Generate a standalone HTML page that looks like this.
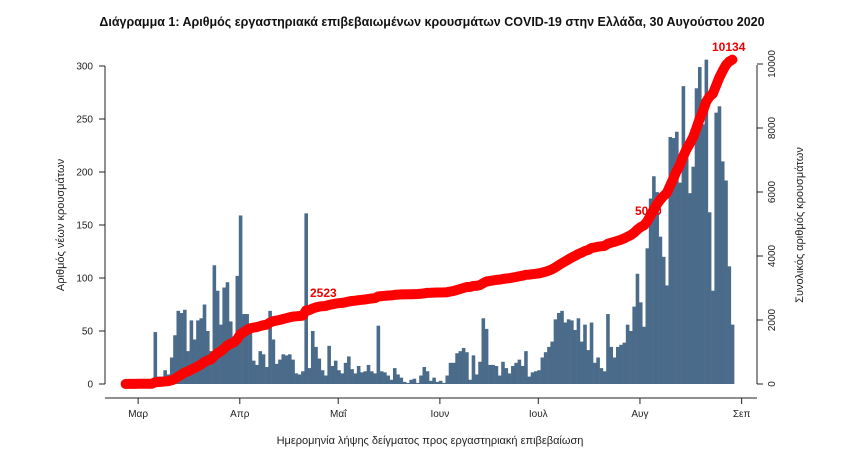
<!DOCTYPE html>
<html><head><meta charset="utf-8"><style>
body{margin:0;background:#fff;}
svg{display:block;font-family:"Liberation Sans","DejaVu Sans",sans-serif;}
</style></head><body>
<svg id="s" width="846" height="457" viewBox="0 0 846 457" xmlns="http://www.w3.org/2000/svg">
<text x="432" y="26" text-anchor="middle" font-size="12.5" font-weight="bold" fill="#111">Διάγραμμα 1: Αριθμός εργαστηριακά επιβεβαιωμένων κρουσμάτων COVID-19 στην Ελλάδα, 30 Αυγούστου 2020</text>
<g id="bars" fill="#4b6b8a"></g>
<g stroke="#222" stroke-width="1" fill="none">
<line x1="105" y1="66" x2="105" y2="384"/>
<line x1="757" y1="65" x2="757" y2="384"/>
<line x1="105" y1="398" x2="757" y2="398"/>
</g>
<g id="ax" font-size="10" fill="#222"></g>
<text transform="translate(64,225) rotate(-90)" text-anchor="middle" font-size="11" fill="#222">Αριθμός νέων κρουσμάτων</text>
<text transform="translate(803,225) rotate(-90)" text-anchor="middle" font-size="11" fill="#222">Συνολικός αριθμός κρουσμάτων</text>
<text x="430" y="444" text-anchor="middle" font-size="11" fill="#222">Ημερομηνία λήψης δείγματος προς εργαστηριακή επιβεβαίωση</text>
<g id="cum"></g>
<text x="310" y="297" font-size="12" font-weight="bold" fill="#e00">2523</text>
<text x="635" y="215" font-size="12" font-weight="bold" fill="#e00">5000</text>
<text x="712" y="51" font-size="12" font-weight="bold" fill="#e00">10134</text>
</svg>
<script>
var segs=[[0,[1,1,1,0,2,1,0,0,2,49,7,7,13,9,25,46,69,67,70,31,60,42,60,62,75,50,31,112,88,56,91,96,59,43,102,159,
66,66,54,22,18,31,28,16,69,42,19,23,28,27,28,23,10,9,12,161]],
[56,[15,50,35,24,13,8,36,17,22,13,10,20,26,14,10,17,11,12,18,12,10,55]],
[78,[12,11,8,4,15,9,6,2,1,4,5,1,8,16,12,3,6,2,3,1,8,20]],
[100,[20,29,31,34,30,4,27,9,21,62,52,18,18,17,8,21,15,10,17,20,23,17,31,7,11,12,13]],
[127,[25,30,35,40,61,67,69,58,61,60,51,62,40,56,32,58,20,25,15,12,66,35,25,35,37,39,56]],
[154,[50,73,104,77,54]],
[159,[128,175,196,181,139,120,93,233,232,238,190,281,220,180,205,279,299,245,306,162,88,256,262,210,192,111,56]]];
var n=186,d=[];for(var i=0;i<n;i++)d.push(0);
segs.forEach(function(s){s[1].forEach(function(v,j){d[s[0]+j]=v;});});
var NS="http://www.w3.org/2000/svg";
function el(t,a,p){var e=document.createElementNS(NS,t);for(var k in a)e.setAttribute(k,a[k]);p.appendChild(e);return e;}
var W=3.28,X0=124;
var bars=document.getElementById("bars");
for(i=0;i<n;i++){var h=d[i]*1.06;el("rect",{x:X0+i*W,y:384-h,width:W+0.3,height:h},bars);}
var tot=0;for(i=0;i<n;i++)tot+=d[i];
var c=0,pts=[];var cum=document.getElementById("cum");
for(i=0;i<n;i++){c+=d[i];var v=c/tot*10134;pts.push((X0+i*W+W/2).toFixed(1)+","+(384-v*0.032).toFixed(1));}
el("polyline",{points:pts.join(" "),fill:"none",stroke:"#f00","stroke-width":10,"stroke-linecap":"round","stroke-linejoin":"round"},cum);
var ax=document.getElementById("ax");
[0,50,100,150,200,250,300].forEach(function(v){var y=384-v*1.06;el("line",{x1:99,y1:y,x2:105,y2:y,stroke:"#222"},ax);var t=el("text",{x:93,y:y+3.5,"text-anchor":"end"},ax);t.textContent=v;});
[0,2000,4000,6000,8000,10000].forEach(function(v){var y=384-v*0.032;el("line",{x1:757,y1:y,x2:763,y2:y,stroke:"#222"},ax);var t=el("text",{transform:"translate(775,"+y+") rotate(-90)","text-anchor":"middle"},ax);t.textContent=v;});
var m=[["Μαρ",4],["Απρ",35],["Μαΐ",65],["Ιουν",96],["Ιουλ",126],["Αυγ",157],["Σεπ",188]];
m.forEach(function(a){var x=X0+a[1]*W+1;el("line",{x1:x,y1:398,x2:x,y2:404,stroke:"#222"},ax);var t=el("text",{x:x,y:417,"text-anchor":"middle"},ax);t.textContent=a[0];});
</script>
</body></html>
